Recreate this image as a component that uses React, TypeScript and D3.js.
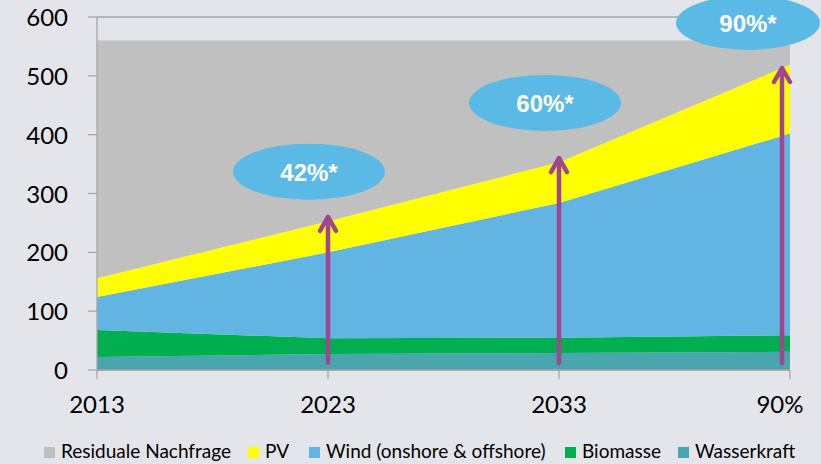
import React from 'react';
import * as d3 from 'd3';

// categories on the x axis
const categories = ['2013', '2023', '2033', '90%'];

// series values (TWh), bottom to top of the stack
const wasserkraft = [22, 27, 29, 31];
const biomasse = [46, 27, 26, 28];
const wind = [56, 146, 229, 343];
const pv = [32, 53, 69, 117];
const residual = [404, 307, 207, 41];

const seriesNames = ['Wasserkraft', 'Biomasse', 'Wind (onshore & offshore)', 'PV', 'Residuale Nachfrage'];
const seriesColors = ['#4aa6ae', '#00b050', '#62b5e2', '#ffff00', '#c0c0c0'];

// annotations: share labels, arrow tips and bubble centres (value units)
const shareLabels = ['42%*', '60%*', '90%*'];
const arrowTips = [262, 362, 515];
const arrowBase = 12;
const bubbleValues = [337, 454, 590];

const yTicks = [0, 100, 200, 300, 400, 500, 600];

// legend order as shown
const legendOrder = [4, 3, 2, 1, 0];
const legendX = [44, 248, 309, 565, 678];

const W = 821;
const H = 464;
const margin = { left: 97, right: 31, top: 17, bottom: 94 };

const font = 'Lato, "Open Sans", sans-serif';

export default function App() {
  const rows = categories.map((c, i) => ({
    cat: c,
    s0: wasserkraft[i],
    s1: biomasse[i],
    s2: wind[i],
    s3: pv[i],
    s4: residual[i]
  }));
  const keys = ['s0', 's1', 's2', 's3', 's4'];
  const stacked = d3.stack<any>().keys(keys)(rows);

  const x = d3.scalePoint<string>().domain(categories).range([margin.left, W - margin.right]);
  const y = d3.scaleLinear().domain([0, 600]).range([H - margin.bottom, margin.top]);

  const area = d3.area<any>()
    .x((d: any) => x(d.data.cat) as number)
    .y0((d: any) => y(d[0]))
    .y1((d: any) => y(d[1]));

  const bubbleOffset = [-19, -14, -42];
  const arrowOffset = [0, 0, -8];

  return (
    <svg width={W} height={H} style={{ position: 'absolute', left: 0, top: 0 }}>
      <rect width={W} height={H} fill="#e4e5ea" />
      {/* gridlines behind the areas */}
      {yTicks.map(t => (
        <line key={'g' + t} x1={margin.left} x2={W - margin.right} y1={y(t)} y2={y(t)} stroke="#a6a6a6" strokeWidth={1.3} />
      ))}
      {stacked.map((s, i) => (
        <path key={s.key} d={area(s as any) || ''} fill={seriesColors[i]} />
      ))}
      {/* y axis */}
      <line x1={margin.left} x2={margin.left} y1={y(600)} y2={y(0)} stroke="#a6a6a6" strokeWidth={1.3} />
      {yTicks.map(t => (
        <g key={'t' + t}>
          <line x1={margin.left - 9} x2={margin.left} y1={y(t)} y2={y(t)} stroke="#a6a6a6" strokeWidth={1.3} />
          <text x={68} y={y(t) + 9} textAnchor="end" fontFamily={font} fontSize={24} fill="#000">{t}</text>
        </g>
      ))}
      {/* x axis */}
      <line x1={margin.left} x2={W - margin.right} y1={y(0)} y2={y(0)} stroke="#a6a6a6" strokeWidth={1.3} />
      {categories.map((c, i) => (
        <g key={'x' + c}>
          <line x1={x(c)} x2={x(c)} y1={y(0)} y2={y(0) + 9} stroke="#a6a6a6" strokeWidth={1.3} />
          <text x={(x(c) as number) + (i === categories.length - 1 ? -10 : 0)} y={413} textAnchor="middle" fontFamily={font} fontSize={24} fill="#000">{c}</text>
        </g>
      ))}
      {/* arrows */}
      {shareLabels.map((l, i) => {
        const ax = (x(categories[i + 1]) as number) + arrowOffset[i];
        const tip = y(arrowTips[i]);
        return (
          <g key={'a' + i} stroke="#a0468f" strokeWidth={4.5} fill="none" strokeLinecap="round" strokeLinejoin="round">
            <line x1={ax} x2={ax} y1={y(arrowBase)} y2={tip + 2} />
            <polyline points={`${ax - 8},${tip + 15} ${ax},${tip + 1} ${ax + 8},${tip + 15}`} />
          </g>
        );
      })}
      {/* bubbles */}
      {shareLabels.map((l, i) => {
        const cx = (x(categories[i + 1]) as number) + bubbleOffset[i];
        const cy = y(bubbleValues[i]);
        return (
          <g key={'b' + i}>
            <ellipse cx={cx} cy={cy} rx={i === 2 ? 72 : 76} ry={i === 2 ? 27 : 28} fill="#5bb9e6" />
            <text x={cx} y={cy + 9} textAnchor="middle" fontFamily='"Liberation Sans", Arial, sans-serif' fontWeight="bold" fontSize={24} fill="#fff">{l}</text>
          </g>
        );
      })}
      {/* legend */}
      {legendOrder.map((si, k) => (
        <g key={'l' + si}>
          <rect x={legendX[k]} y={447} width={11} height={11} fill={seriesColors[si]} />
          <text x={legendX[k] + 17} y={458} fontFamily={font} fontSize={19} fill="#000">{seriesNames[si]}</text>
        </g>
      ))}
    </svg>
  );
}
